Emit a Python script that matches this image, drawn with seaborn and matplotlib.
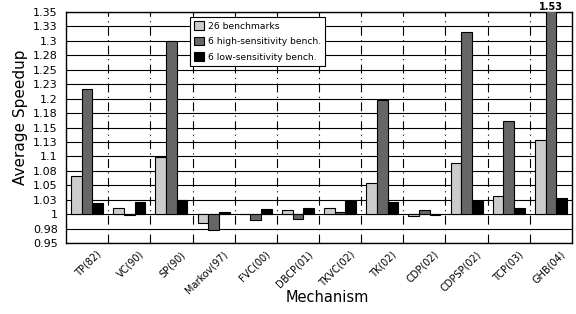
import numpy as np
import pandas as pd
import matplotlib
matplotlib.use("Agg")
import matplotlib.pyplot as plt
import seaborn as sns

mechanisms = ["TP(82)", "VC(90)", "SP(90)", "Markov(97)", "FVC(00)", "DBCP(01)",
              "TKVC(02)", "TK(02)", "CDP(02)", "CDPSP(02)", "TCP(03)", "GHB(04)"]
series_names = ["26 benchmarks", "6 high-sensitivity bench.", "6 low-sensitivity bench."]
speedup_all26 = [1.066, 1.010, 1.099, 0.985, 1.001, 1.007, 1.010, 1.054, 0.996, 1.089, 1.032, 1.128]
speedup_high = [1.216, 0.999, 1.300, 0.972, 0.990, 0.991, 1.003, 1.197, 1.007, 1.315, 1.162, 1.53]
speedup_low = [1.019, 1.021, 1.024, 1.003, 1.009, 1.011, 1.023, 1.021, 0.999, 1.023, 1.011, 1.028]
ytick_values = [0.95, 0.975, 1.0, 1.025, 1.05, 1.075, 1.1, 1.125, 1.15, 1.175, 1.2,
                1.225, 1.25, 1.275, 1.3, 1.325, 1.35]
ytick_labels = ["0.95", "0.98", "1", "1.03", "1.05", "1.08", "1.1", "1.13", "1.15", "1.18",
                "1.2", "1.23", "1.25", "1.28", "1.3", "1.33", "1.35"]
baseline = 1.0

rows = []
for name, vals in zip(series_names, [speedup_all26, speedup_high, speedup_low]):
    for m, v in zip(mechanisms, vals):
        rows.append({"Mechanism": m, "Series": name, "Speedup": v, "delta": v - baseline})
df = pd.DataFrame(rows)

sns.set_theme(style="white")
plt.rcParams["font.family"] = ["DejaVu Sans"]
plt.rcParams["text.color"] = "black"
plt.rcParams["axes.labelcolor"] = "black"
plt.rcParams["xtick.color"] = "black"
plt.rcParams["ytick.color"] = "black"

fig = plt.figure(figsize=(5.76, 3.14), dpi=100)
ax = fig.add_axes([66 / 576, 71 / 314, 506 / 576, 231 / 314])

sns.barplot(data=df, x="Mechanism", y="delta", hue="Series",
            palette=["#cccccc", "#666666", "#000000"], width=0.76,
            edgecolor="black", linewidth=0.8, saturation=1, ax=ax, zorder=3)

ax.set_xlim(-0.5, len(mechanisms) - 0.5)
ax.set_ylim(ytick_values[0] - baseline, ytick_values[-1] - baseline)
ax.set_yticks([v - baseline for v in ytick_values], ytick_labels, fontsize=8)
ax.tick_params(axis="y", direction="out", length=4, width=0.8, color="black", pad=2)
ax.yaxis.grid(True, color="black", linewidth=0.8)
ax.set_axisbelow(True)

for b in np.arange(0.5, len(mechanisms) - 0.5):
    ax.axvline(b, color="black", lw=0.8, ls=(0, (8, 4, 1, 4)), zorder=1)

centers = np.arange(len(mechanisms))
ax.set_xticks(centers + 0.3, mechanisms, fontsize=7, rotation=45, ha="right",
              va="center", rotation_mode="anchor")
ax.tick_params(axis="x", which="major", length=0, pad=7)
ax.set_xticks(np.arange(-0.5, len(mechanisms)), minor=True)
ax.tick_params(axis="x", which="minor", direction="out", length=4, width=0.8, color="black")

for s in ax.spines.values():
    s.set_color("black")
    s.set_linewidth(1.0)

ax.set_ylabel("Average Speedup", fontsize=11)
ax.yaxis.set_label_coords(-0.075, 0.545)
ax.set_xlabel("Mechanism", fontsize=10.5)
ax.xaxis.set_label_coords(0.516, -0.203)

# label for the clipped bar
ghb_bar = ax.containers[1][len(mechanisms) - 1]
ax.text(ghb_bar.get_x() + ghb_bar.get_width() / 2, ytick_values[-1] - baseline,
        f"{speedup_high[-1]:.2f}", ha="center", va="bottom", fontsize=7,
        fontweight="bold")

ax.legend(loc="upper left", bbox_to_anchor=(0.245, 0.978), borderaxespad=0,
          fontsize=6.6, frameon=True, fancybox=False, edgecolor="black",
          framealpha=1, handlelength=1.1, handleheight=1.1, handletextpad=0.4,
          labelspacing=0.65, borderpad=0.45, title=None)
ax.get_legend().get_frame().set_linewidth(0.8)

fig.savefig("out.png", dpi=100)
